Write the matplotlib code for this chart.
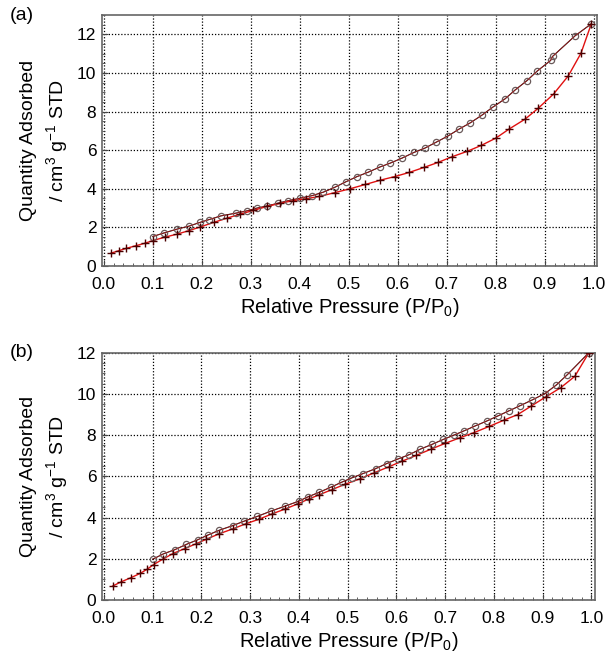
import numpy as np
import matplotlib
matplotlib.use('Agg')
import matplotlib.pyplot as plt
from matplotlib.ticker import MultipleLocator

plt.rcParams['font.family'] = ['Liberation Sans', 'DejaVu Sans']
plt.rcParams['mathtext.default'] = 'regular'

# Panel (a) - adsorption branch (crosses)
adsA_x = [0.015, 0.03, 0.045, 0.065, 0.085, 0.1, 0.125, 0.149, 0.173, 0.196, 0.224, 0.251,
          0.278, 0.305, 0.333, 0.36, 0.386, 0.413, 0.44, 0.472, 0.503, 0.534, 0.564, 0.594,
          0.623, 0.653, 0.682, 0.71, 0.741, 0.77, 0.8, 0.827, 0.86, 0.887, 0.918, 0.948,
          0.974, 0.995]
adsA_y = [0.66, 0.78, 0.9, 1.04, 1.18, 1.31, 1.49, 1.64, 1.82, 2.01, 2.25, 2.47,
          2.68, 2.87, 3.08, 3.24, 3.38, 3.48, 3.6, 3.8, 4.0, 4.22, 4.44, 4.63,
          4.84, 5.1, 5.36, 5.65, 5.93, 6.24, 6.62, 7.09, 7.61, 8.18, 8.91, 9.85,
          11.03, 12.55]
# Panel (a) - desorption branch (circles)
desA_x = [0.995, 0.962, 0.916, 0.912, 0.885, 0.864, 0.84, 0.819, 0.794, 0.771, 0.747,
          0.725, 0.703, 0.679, 0.655, 0.633, 0.609, 0.585, 0.563, 0.54, 0.517, 0.495,
          0.472, 0.448, 0.425, 0.401, 0.375, 0.356, 0.334, 0.312, 0.292, 0.269, 0.239,
          0.215, 0.196, 0.174, 0.149, 0.122, 0.1]
desA_y = [12.55, 11.93, 10.86, 10.65, 10.11, 9.61, 9.13, 8.66, 8.23, 7.8, 7.4,
          7.09, 6.74, 6.42, 6.1, 5.88, 5.59, 5.33, 5.12, 4.86, 4.63, 4.37,
          4.08, 3.82, 3.64, 3.51, 3.37, 3.25, 3.11, 2.99, 2.85, 2.73, 2.59,
          2.4, 2.25, 2.06, 1.9, 1.7, 1.52]

# Panel (b) - adsorption branch
adsB_x = [0.018, 0.035, 0.055, 0.075, 0.089, 0.102, 0.122, 0.142, 0.166, 0.19, 0.21,
          0.237, 0.264, 0.291, 0.318, 0.345, 0.372, 0.399, 0.42, 0.441, 0.468, 0.495,
          0.525, 0.555, 0.584, 0.612, 0.641, 0.671, 0.7, 0.731, 0.759, 0.79, 0.82,
          0.849, 0.876, 0.906, 0.937, 0.966, 0.995]
adsB_y = [0.68, 0.88, 1.08, 1.3, 1.5, 1.72, 2.0, 2.26, 2.5, 2.74, 2.95,
          3.22, 3.45, 3.7, 3.92, 4.18, 4.42, 4.68, 4.9, 5.1, 5.36, 5.62,
          5.88, 6.18, 6.46, 6.74, 7.02, 7.32, 7.6, 7.88, 8.12, 8.42, 8.72,
          9.0, 9.4, 9.85, 10.3, 10.85, 12.0]
# Panel (b) - desorption branch
desB_x = [0.995, 0.951, 0.928, 0.905, 0.878, 0.853, 0.831, 0.809, 0.785, 0.762, 0.738,
          0.718, 0.696, 0.673, 0.649, 0.627, 0.603, 0.58, 0.558, 0.532, 0.51, 0.489,
          0.467, 0.441, 0.418, 0.4, 0.371, 0.342, 0.315, 0.288, 0.264, 0.237, 0.213,
          0.193, 0.169, 0.146, 0.122, 0.1]
desB_y = [12.0, 10.94, 10.43, 10.02, 9.7, 9.42, 9.18, 8.94, 8.68, 8.45, 8.2,
          8.0, 7.79, 7.55, 7.32, 7.06, 6.84, 6.62, 6.38, 6.14, 5.94, 5.73,
          5.49, 5.22, 5.0, 4.8, 4.55, 4.31, 4.06, 3.83, 3.61, 3.39, 3.15,
          2.93, 2.7, 2.45, 2.24, 1.98]

panels = [
    ('(a)', adsA_x, adsA_y, desA_x, desA_y, 13, [0.167, 0.596, 0.812, 0.381], 0.977),
    ('(b)', adsB_x, adsB_y, desB_x, desB_y, 12, [0.167, 0.088, 0.808, 0.376], 0.465),
]

fig = plt.figure(figsize=(6.1, 6.58), dpi=100)

for tag, ax_x, ax_y, dx, dy, ytop, rect, tagy in panels:
    ax = fig.add_axes(rect)
    # desorption: circles
    ax.plot(dx, dy, '-', color='black', lw=0.8, zorder=3)
    ax.plot(dx, dy, 'o', mfc='none', mec='#6a5a5a', ms=4.5, mew=0.9, zorder=4)
    ax.plot(dx, dy, '-', color='#e02020', lw=0.5, alpha=0.8, zorder=4)
    # adsorption: crosses
    ax.plot(ax_x, ax_y, '-', color='#e01010', lw=1.0, zorder=3)
    ax.plot(ax_x, ax_y, '+', color='#4a0000', ms=5.5, mew=1.0, zorder=4)

    ax.set_xlim(-0.004, 1.007)
    ax.set_ylim(0, ytop)
    ax.set_xticks(np.arange(0, 1.01, 0.1))
    ax.set_xticklabels(['%.1f' % v for v in np.arange(0, 1.01, 0.1)])
    ax.xaxis.set_minor_locator(MultipleLocator(0.02))
    ax.yaxis.set_major_locator(MultipleLocator(2))
    ax.yaxis.set_minor_locator(MultipleLocator(0.5))
    ax.grid(True, which='major', color='black', linestyle=(0, (1, 1.5)), lw=0.9)
    ax.tick_params(which='both', direction='in', top=False, right=False,
                   labelsize=12.5, color='#444444')
    ax.tick_params(axis='x', which='major', pad=8)
    ax.tick_params(axis='y', which='major', pad=4)
    ax.tick_params(which='major', length=4)
    ax.tick_params(which='minor', length=2.5)
    for s in ax.spines.values():
        s.set_color('#666666')
        s.set_linewidth(1.2)
    ax.set_xlabel('Relative Pressure (P/P$_0$)', fontsize=14.5, labelpad=3)
    ax.set_ylabel('Quantity Adsorbed\n/ cm$^3$ g$^{-1}$ STD', fontsize=14,
                  linespacing=1.35, labelpad=5)
    fig.text(0.036, tagy, tag, fontsize=14, ha='center', va='center')

fig.savefig('out.png', dpi=100)
